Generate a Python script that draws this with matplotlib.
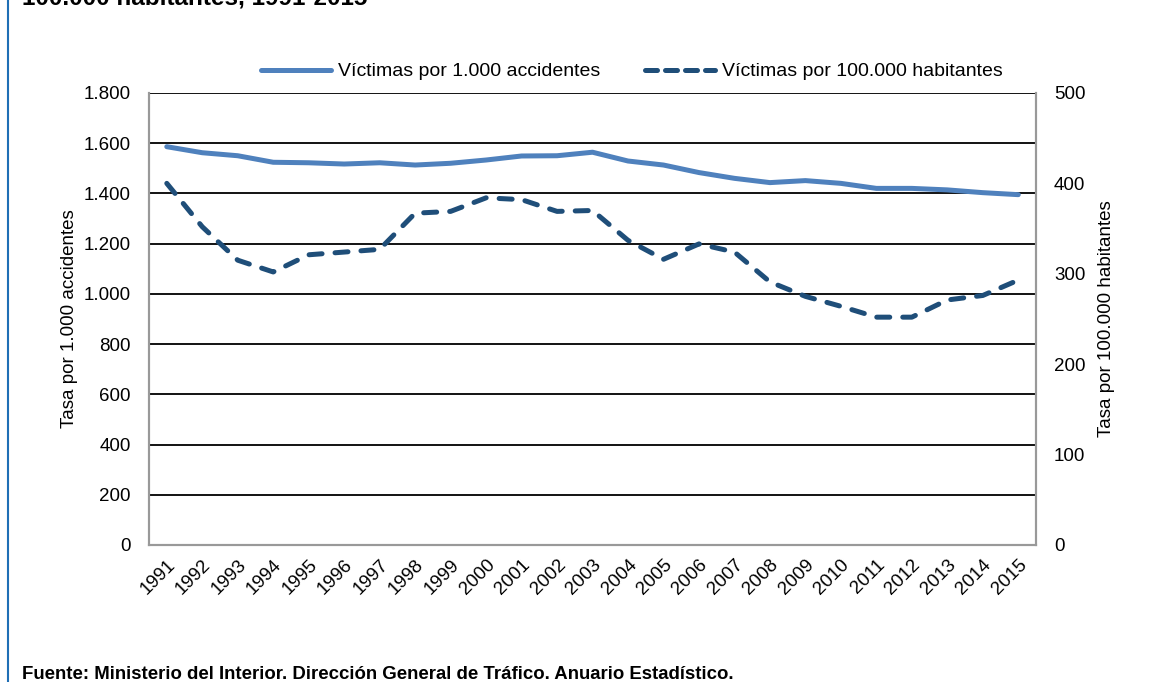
import matplotlib
matplotlib.use("Agg")
import matplotlib.pyplot as plt
from matplotlib.lines import Line2D

plt.rcParams['font.family'] = ['Liberation Sans', 'DejaVu Sans']

# datos
anios = [str(a) for a in range(1991, 2016)]
victimas_accidentes = [1586, 1562, 1550, 1524, 1522, 1517, 1522, 1513, 1520, 1533,
                       1549, 1550, 1564, 1529, 1513, 1483, 1460, 1443, 1451, 1440,
                       1420, 1420, 1414, 1403, 1395]
victimas_habitantes = [400, 352, 315, 302, 321, 324, 327, 367, 369, 384,
                       382, 369, 370, 337, 316, 333, 324, 291, 275, 264,
                       252, 252, 271, 276, 293]

color_solida = '#4F81BD'
color_discont = '#1F4E79'

fig = plt.figure(figsize=(11.59, 6.82), dpi=100)
ax = fig.add_axes([0.1286, 0.2009, 0.7653, 0.6628])
ax2 = ax.twinx()

x = list(range(len(anios)))
l1, = ax.plot(x, victimas_accidentes, color=color_solida, lw=3.6,
              solid_capstyle='round', label='Víctimas por 1.000 accidentes', zorder=3)
l2, = ax2.plot(x, victimas_habitantes, color=color_discont, lw=3.6,
               dashes=(2.6, 2.6), dash_capstyle='round',
               label='Víctimas por 100.000 habitantes', zorder=3)

ax.set_xlim(-0.5, len(anios) - 0.5)
ax.set_ylim(0, 1800)
ax2.set_ylim(0, 500)
ax.set_yticks(range(0, 1801, 200))
ax.set_yticklabels(['0', '200', '400', '600', '800', '1.000', '1.200', '1.400', '1.600', '1.800'])
ax2.set_yticks(range(0, 501, 100))
ax.set_xticks(x)
ax.set_xticklabels(anios, rotation=45, ha='right', rotation_mode='anchor')

for v in range(200, 1801, 200):
    ax.axhline(v, color='black', lw=1.3, zorder=1)

for a in (ax, ax2):
    a.tick_params(length=0, labelsize=13.5)
    for s in a.spines.values():
        s.set_color('#999999')
        s.set_linewidth(1.5)
    a.spines['top'].set_visible(False)
ax.tick_params(axis='y', pad=13)
ax2.tick_params(axis='y', pad=13)
ax.tick_params(axis='x', pad=8)

ax.set_ylabel('Tasa por 1.000 accidentes', fontsize=13.5, labelpad=4)
ax2.set_ylabel('Tasa por 100.000 habitantes', fontsize=13.5, labelpad=9)

leg_handle_solid = Line2D([], [], color=color_solida, lw=3.6, solid_capstyle='round')
leg_handle_dash = Line2D([], [], color=color_discont, lw=3.6, dashes=(2.4, 1.6),
                         dash_capstyle='round')
fig.legend(handles=[leg_handle_solid, leg_handle_dash],
           labels=[l1.get_label(), l2.get_label()],
           loc='center', bbox_to_anchor=(0.545, 0.895), ncol=2,
           frameon=False, fontsize=14, handlelength=3.6, columnspacing=2.3,
           handletextpad=0.35)

fig.text(22 / 1159, 1 - 5 / 682, '100.000 habitantes, 1991-2015', fontsize=17.5,
         fontweight='bold', va='baseline', ha='left')
fig.text(22 / 1159, 1 - 679 / 682,
         'Fuente: Ministerio del Interior. Dirección General de Tráfico. Anuario Estadístico.',
         fontsize=13.4, fontweight='bold', va='baseline', ha='left')
fig.add_artist(Line2D([8 / 1159, 8 / 1159], [0, 1], color='#1F6FB5', lw=1.5,
                      transform=fig.transFigure))

fig.savefig('out.png', dpi=100)
